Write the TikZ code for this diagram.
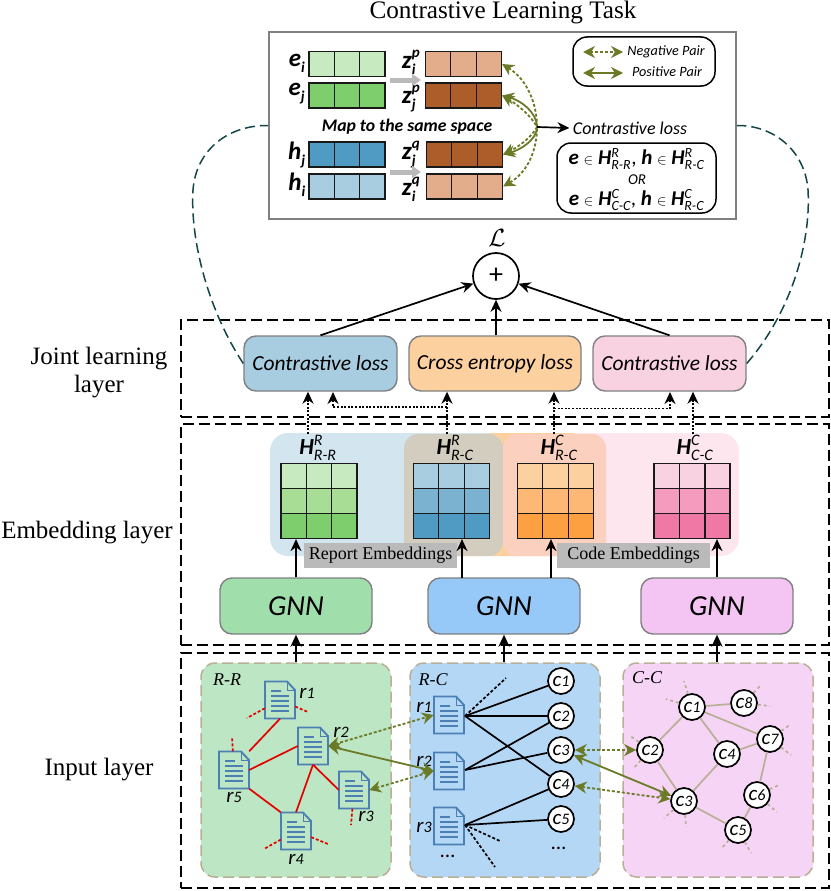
\documentclass[tikz,border=0pt]{standalone}
\usepackage{amsmath}
\usepackage{fontspec}
\setmainfont{Carlito}
\newfontfamily\timesface{Liberation Serif}
\usetikzlibrary{arrows.meta,calc,positioning}

\definecolor{olivepair}{RGB}{107,122,38}
\definecolor{tanline}{RGB}{185,175,150}
\definecolor{tealcurve}{RGB}{20,70,70}
\definecolor{gnA}{RGB}{200,234,193}
\definecolor{gnB}{RGB}{168,221,150}
\definecolor{gnC}{RGB}{126,206,110}
\definecolor{blA}{RGB}{168,205,224}
\definecolor{blB}{RGB}{123,178,208}
\definecolor{blC}{RGB}{79,155,195}
\definecolor{orA}{RGB}{253,208,160}
\definecolor{orB}{RGB}{253,184,118}
\definecolor{orC}{RGB}{252,160,65}
\definecolor{pkA}{RGB}{249,210,226}
\definecolor{pkB}{RGB}{245,155,190}
\definecolor{pkC}{RGB}{240,120,165}
\definecolor{zlight}{RGB}{227,172,139}
\definecolor{zdark}{RGB}{172,93,42}
\definecolor{docblue}{RGB}{76,128,180}
\definecolor{bgblue}{RGB}{211,229,239}
\definecolor{bgpink}{RGB}{253,230,237}
\definecolor{bgtan}{RGB}{210,205,190}
\definecolor{bgsalmon}{RGB}{252,208,190}

\tikzset{
  strip/.style={draw=black!90,line width=1.2pt,minimum width=76pt,minimum height=25pt,inner sep=0pt},
  layerbox/.style={draw,line width=1.5pt,dash pattern=on 11pt off 5pt,minimum width=648pt,inner sep=0pt},
  panel/.style={draw=tanline,line width=1.5pt,dash pattern=on 11pt off 5pt,rounded corners=14pt,
    minimum width=190pt,minimum height=214pt,inner sep=0pt},
  lossbox/.style={draw=black!50,line width=1.4pt,rounded corners=12pt,minimum height=55pt,inner sep=0pt,
    font=\fontsize{21.5}{21.5}\selectfont\itshape},
  gnnbox/.style={lossbox,minimum width=152pt,minimum height=56pt,font=\fontsize{29}{29}\selectfont\itshape},
  keybox/.style={draw,line width=1.5pt,rounded corners=14pt,inner sep=0pt},
  graybar/.style={fill=black!27,minimum height=25pt,inner sep=0pt,font=\timesface\fontsize{18}{18}\selectfont},
  sidelabel/.style={align=center,font=\timesface\fontsize{25}{28}\selectfont},
  docbox/.style={minimum width=30pt,minimum height=37pt,inner sep=0pt},
  cnode/.style={circle,draw,fill=white,line width=1.7pt,minimum size=26pt,inner sep=0pt,
    font=\fontsize{21}{21}\selectfont\itshape},
  rname/.style={font=\fontsize{21}{21}\selectfont\itshape},
  panelname/.style={font=\timesface\fontsize{18}{18}\selectfont\itshape},
  barname/.style={font=\fontsize{25}{25}\selectfont\bfseries\itshape,inner sep=0pt},
  matname/.style={font=\fontsize{23}{23}\selectfont\bfseries\itshape,inner sep=0pt},
  arrow/.style={-{Stealth[length=12pt,width=11pt]},line width=1.7pt},
  dotarrow/.style={arrow,dash pattern=on 2pt off 1.6pt},
  graylink/.style={black!27,line width=5pt,-{Triangle[length=9pt,width=12pt]}},
  pospair/.style={olivepair,line width=1.8pt,{Stealth[length=12pt,width=12pt]}-{Stealth[length=12pt,width=12pt]}},
  negpair/.style={pospair,dash pattern=on 3pt off 2pt},
  redlink/.style={red!90!black,line width=1.7pt},
  redstub/.style={redlink,dash pattern=on 3pt off 2pt},
  tanlink/.style={tanline,line width=1.7pt},
  tanstub/.style={tanlink,dash pattern=on 3pt off 3pt},
  blacklink/.style={line width=1.7pt},
  blackstub/.style={blacklink,dash pattern=on 3pt off 2pt},
  jointcurve/.style={tealcurve,line width=1.5pt,dash pattern=on 10pt off 5pt},
  whichrow/.style={font=\fontsize{21}{21}\selectfont,inner sep=0pt},
}

% one row of three cells
\newcommand{\cellrow}[3]{%
  \node[strip,fill=#3] (#1) at (#2) {};
  \foreach \t in {0.333,0.667}
    \draw[black!90,line width=1.2pt] ($(#1.north west)!\t!(#1.north east)$) -- ($(#1.south west)!\t!(#1.south east)$);
}
% three rows stacked
\newcommand{\cellgrid}[3]{%
  \cellrow{#1top}{#2,476}{#3A}
  \cellrow{#1mid}{#2,501}{#3B}
  \cellrow{#1low}{#2,526}{#3C}
}
% report page with folded corner
\newcommand{\docnode}[2]{%
  \node[docbox] (#1) at (#2) {};
  \begin{scope}[shift={(#2)}]
    \draw[docblue,line width=1.9pt] (-15,-18.5) -- (7,-18.5) -- (15,-10) -- (15,18.5) -- (-15,18.5) -- cycle;
    \draw[docblue,line width=1pt] (7,-18.5) -- (7,-10) -- (15,-10);
    \foreach \ya/\xa in {-9/1,-4/9,1/9,6/9,11/9}
      \draw[docblue,line width=1.2pt] (-9,\ya) -- (\xa,\ya);
  \end{scope}
}
% bold letter, bold indices
\newcommand{\vecname}[3]{#1$_{\text{\fontsize{15}{15}\selectfont #3}}^{\text{\fontsize{15}{15}\selectfont #2}}$}
% bold letter, plain indices
\newcommand{\emb}[4][16]{\textbf{\textit{#2}}$_{\text{\normalfont\itshape\fontsize{#1}{#1}\selectfont #4}}^{\text{\normalfont\itshape\fontsize{#1}{#1}\selectfont #3}}$}
\newcommand{\tinydigit}[2]{#1{\fontsize{16}{16}\selectfont #2}}
\newcommand{\smallin}{{\fontsize{15}{15}\selectfont$\in$}}

\begin{document}
\begin{tikzpicture}[x=1pt,y=-1pt]
  \useasboundingbox (0,0) rectangle (830,891);

  % contrastive task box
  \node[font=\timesface\fontsize{25.2}{25.2}\selectfont] (title) at (503,12) {Contrastive Learning Task};
  \node[draw=black!50,line width=1.6pt,minimum width=467pt,minimum height=187pt,inner sep=0pt] (task) at (502.5,125.5) {};
  \cellrow{ei}{347,64}{gnA}
  \cellrow{ej}{347,95.5}{gnC}
  \cellrow{hj}{347,154.5}{blC}
  \cellrow{hi}{347,186.5}{blA}
  \cellrow{zip}{463.5,64}{zlight}
  \cellrow{zjp}{463.5,95.5}{zdark}
  \cellrow{zjq}{464.5,154.5}{zdark}
  \cellrow{ziq}{464.5,186.5}{zlight}
  \node[barname] (lei) at (297,63) {\vecname{e}{}{i}};
  \node[barname] (lej) at (297,94) {\vecname{e}{}{j}};
  \node[barname] (lhj) at (297,155) {\vecname{h}{}{j}};
  \node[barname] (lhi) at (297,185) {\vecname{h}{}{i}};
  \node[barname] (lzip) at (411,62) {\vecname{z}{p}{i}};
  \node[barname] (lzjp) at (411,99) {\vecname{z}{p}{j}};
  \node[barname] (lzjq) at (411,155) {\vecname{z}{q}{j}};
  \node[barname] (lziq) at (411,189) {\vecname{z}{q}{i}};
  \node[font=\fontsize{17.7}{17.7}\selectfont\bfseries\itshape] (mapnote) at (407,127) {Map to the same space};
  \coordinate (gapa) at (390,80);
  \coordinate (gapb) at (421,80);
  \coordinate (gapc) at (390,172);
  \coordinate (gapd) at (421,172);
  \draw[graylink] (gapa) -- (gapb);
  \draw[graylink] (gapc) -- (gapd);

  % pairs meet at one point
  \coordinate (meet) at (537,127);
  \draw[negpair] (zip.east) .. controls (528,80) and (537,105) .. (meet) .. controls (537,150) and (528,172) .. (ziq.east);
  \draw[negpair] (zjp.east) .. controls (515,103) and (531,115) .. (meet) .. controls (531,138) and (518,147) .. (zjq.east);
  \draw[pospair] (zjp.east) .. controls (520,100) and (537,112) .. (meet) .. controls (537,140) and (520,150) .. (zjq.east);
  \node[font=\fontsize{18}{18}\selectfont\itshape] (closs) at (630,128) {Contrastive loss};
  \draw[arrow] (meet) -- (closs.west);

  % key of pair types
  \node[keybox,minimum width=142pt,minimum height=49pt] (key) at (644,61.5) {};
  \coordinate (nega) at (583,52);
  \coordinate (negb) at (623,52);
  \coordinate (posa) at (583,73);
  \coordinate (posb) at (623,73);
  \draw[negpair] (nega) -- (negb);
  \draw[pospair] (posa) -- (posb);
  \node[font=\fontsize{14.2}{14.2}\selectfont\itshape] (negtext) at (666,52) {Negative Pair};
  \node[font=\fontsize{14.2}{14.2}\selectfont\itshape] (postext) at (667,72) {Positive Pair};

  % which matrices are compared
  \node[keybox,minimum width=159pt,minimum height=70pt] (which) at (636.5,178) {};
  \node[whichrow] (whicha) at (636.5,159) {\textbf{\textit{e}} \smallin{} \emb[14]{H}{R}{R-R}, \textbf{\textit{h}} \smallin{} \emb[14]{H}{R}{R-C}};
  \node[font=\fontsize{15}{15}\selectfont\itshape,inner sep=0pt] (whichor) at (637,180) {OR};
  \node[whichrow] (whichb) at (636.5,200) {\textbf{\textit{e}} \smallin{} \emb[14]{H}{C}{C-C}, \textbf{\textit{h}} \smallin{} \emb[14]{H}{C}{R-C}};

  % layers
  \node[layerbox,minimum height=97pt] (joint) at (505,368.5) {};
  \node[layerbox,minimum height=221pt] (embed) at (505,534.5) {};
  \node[layerbox,minimum height=235pt] (input) at (505,770.5) {};
  \node[sidelabel] (ljoint) at (99,373) {Joint learning\\layer};
  \node[sidelabel] (lembed) at (87,533) {Embedding layer};
  \node[sidelabel] (linput) at (99,770) {Input layer};

  % joint learning
  \node[lossbox,fill=blA,minimum width=153pt] (lossa) at (320.5,363.5) {Contrastive loss};
  \node[lossbox,fill=orA,minimum width=172pt] (lossb) at (495,363.5) {Cross entropy loss};
  \node[lossbox,fill=pkA,minimum width=153pt] (lossc) at (669.5,363.5) {Contrastive loss};
  \node[circle,draw,line width=1.7pt,minimum size=46pt,inner sep=0pt,font=\fontsize{28}{28}\selectfont] (plus) at (496,276) {+};
  \node[font=\fontsize{24}{24}\selectfont] (total) at (497,238) {$\mathcal{L}$};
  \draw[arrow] (lossa.north) -- (plus);
  \draw[arrow] (lossb.north -| plus) -- (plus);
  \draw[arrow] (lossc.north) -- (plus);
  \coordinate (bulgel) at (193,190);
  \coordinate (bulger) at (808,190);
  \draw[jointcurve] (lossa.west) .. controls (208,310) and (190,240) .. (bulgel) .. controls (196,150) and (228,125) .. (task.west);
  \draw[jointcurve] (lossc.east) .. controls (793,310) and (811,240) .. (bulger) .. controls (805,150) and (773,125) .. (task.east);

  % embedding backgrounds
  \fill[orA,rounded corners=14pt] (404,433) rectangle (606,556);
  \fill[bgblue,rounded corners=18pt] (270,433) rectangle (440,556);
  \fill[bgblue] (420,433) rectangle (490,446);
  \fill[bgpink,rounded corners=18pt] (560,433) rectangle (739,556);
  \fill[bgtan,rounded corners=14pt] (404,434) rectangle (503,556);
  \fill[bgsalmon,rounded corners=14pt] (503,434) rectangle (606,556);
  \cellgrid{report}{319}{gn}
  \cellgrid{rcleft}{451.5}{bl}
  \cellgrid{rcright}{555.5}{or}
  \cellgrid{code}{692}{pk}
  \node[matname] (hrr) at (318,448) {\emb{H}{R}{R-R}};
  \node[matname] (hrc) at (455,448) {\emb{H}{R}{R-C}};
  \node[matname] (hcr) at (559,448) {\emb{H}{C}{R-C}};
  \node[matname] (hcc) at (695,448) {\emb{H}{C}{C-C}};

  % dotted links up to the losses
  \coordinate (upa) at (308,434);
  \coordinate (upb) at (447,434);
  \coordinate (upc) at (554,434);
  \coordinate (upd) at (693,434);
  \coordinate (bendb) at (447,407);
  \coordinate (bendc) at (554,408.5);
  \coordinate (enda) at (333,392);
  \coordinate (endc) at (670,392);
  \draw[dotarrow] (upa) -- (upa |- lossa.south);
  \draw[dotarrow] (upb) -- (upb |- lossb.south);
  \draw[dotarrow] (upc) -- (upc |- lossb.south);
  \draw[dotarrow] (upd) -- (upd |- lossc.south);
  \draw[dotarrow] (bendb) -| (enda);
  \draw[dotarrow] (bendc) -| (endc);

  % gnn encoders
  \node[gnnbox,fill={rgb,255:red,160;green,222;blue,172}] (gnna) at (296,606) {GNN};
  \node[gnnbox,fill={rgb,255:red,150;green,200;blue,248}] (gnnb) at (504,606) {GNN};
  \node[gnnbox,fill={rgb,255:red,244;green,196;blue,243}] (gnnc) at (717,606) {GNN};
  \coordinate (outa) at (462,578);
  \coordinate (outb) at (551,578);
  \node[graybar,minimum width=153pt] (repbar) at (380.5,555.5) {Report Embeddings};
  \node[graybar,minimum width=153pt] (codebar) at (633.5,555.5) {Code Embeddings};
  \draw[arrow] (gnna.north) -- (gnna.north |- reportlow.south);
  \draw[arrow] (outa) -- (outa |- rcleftlow.south);
  \draw[arrow] (outb) -- (outb |- rcrightlow.south);
  \draw[arrow] (gnnc.north) -- (gnnc.north |- codelow.south);

  % input graphs
  \node[panel,fill={rgb,255:red,189;green,230;blue,196}] (prr) at (296,770) {};
  \node[panel,fill={rgb,255:red,180;green,215;blue,246}] (prc) at (505,770) {};
  \node[panel,fill={rgb,255:red,246;green,212;blue,246}] (pcc) at (718,770) {};
  \draw[arrow] (prr.north) -- (gnna.south);
  \draw[arrow] (prc.north -| gnnb) -- (gnnb.south);
  \draw[arrow] (pcc.north -| gnnc) -- (gnnc.south);
  \node[panelname] at (227,680) (nrr) {R-R};
  \node[panelname] at (433,680) (nrc) {R-C};
  \node[panelname] at (647,678) (ncc) {C-C};

  % report graph
  \docnode{ra}{280,700}
  \docnode{rb}{313,746}
  \docnode{rc}{354,790}
  \docnode{rd}{296,831}
  \docnode{re}{234,770}
  \draw[redlink] (ra.south) -- (re.north east);
  \draw[redlink] (re.east) -- (rb.west);
  \draw[redlink] (re.south east) -- (rd.north west);
  \draw[redlink] (rb.south) -- (rc.west);
  \draw[redlink] (rb.south) -- (rd.north);
  \foreach \n/\from/\x/\y in {sa/ra/247/718,sb/ra/308/712,sc/re/232/737,sd/rc/351/825,se/rd/264/849,sf/rd/328/844}{
    \coordinate (\n) at (\x,\y);
    \draw[redstub] (\from) -- (\n);
  }
  \foreach \n/\x/\y/\t in {ta/307/693/1,tb/341/732/2,tc/366/816/3,td/296/859/4,te/234/797/5}
    \node[rname] (\n) at (\x,\y) {\tinydigit{r}{\t}};

  % report-code graph
  \docnode{qa}{449,715}
  \docnode{qb}{449,771}
  \docnode{qc}{449,826}
  \foreach \n/\y/\t in {ka/681/1,kb/716/2,kc/750/3,kd/784/4,ke/819/5}
    \node[cnode] (\n) at (561,\y) {\tinydigit{c}{\t}};
  \coordinate (qae) at (465,716);
  \coordinate (qbe) at (465,770);
  \coordinate (qce) at (465,825);
  \foreach \from/\to in {qae/ka,qae/kb,qae/kd,qbe/kb,qbe/kc,qce/kd,qce/ke}
    \draw[blacklink] (\from) -- (\to);
  \foreach \n/\from/\x/\y in {ua/qae/506/678,ub/qce/500/841,uc/qce/495/867}{
    \coordinate (\n) at (\x,\y);
    \draw[blackstub] (\from) -- (\n);
  }
  \foreach \n/\y/\t in {va/707/1,vb/761/2,vc/827/3}
    \node[rname] (\n) at (424,\y) {\tinydigit{r}{\t}};
  \node[rname] (dotsq) at (448,856) {...};
  \node[rname] (dotsk) at (559,848) {...};

  % code graph
  \foreach \n/\x/\y/\t in {da/692/707/1,db/650/750/2,dc/684/801/3,dd/727/754/4,de/738/830/5,df/757/795/6,dg/770/739/7,dh/744/703/8}
    \node[cnode] (\n) at (\x,\y) {\tinydigit{c}{\t}};
  \foreach \from/\to in {da/dh,da/dg,da/dd,da/db,db/dc,dc/dd,dd/dg,dg/df,df/de,de/dc}
    \draw[tanlink] (\from) -- (\to);
  \foreach \n/\from/\x/\y in {wa/da/684/681,wb/da/666/699,wc/dh/761/685,wd/dh/770/706,we/dg/791/724,wf/dg/791/755,wg/db/629/735,wh/db/633/769,wi/df/779/785,wj/df/777/812,wk/dc/664/818,wl/dc/686/827,wm/de/721/849,wn/de/751/853}{
    \coordinate (\n) at (\x,\y);
    \draw[tanstub] (\from) -- (\n);
  }

  % positive and negative pairs across graphs
  \draw[negpair] (rb.east) -- (qa.west);
  \draw[pospair] (rb.east) -- (qb.west);
  \draw[negpair] (rc.east) -- (qb.west);
  \draw[negpair] (kc) -- (db);
  \draw[pospair] (kc) -- (dc);
  \draw[negpair] (kd) -- (dc);
\end{tikzpicture}
\end{document}
